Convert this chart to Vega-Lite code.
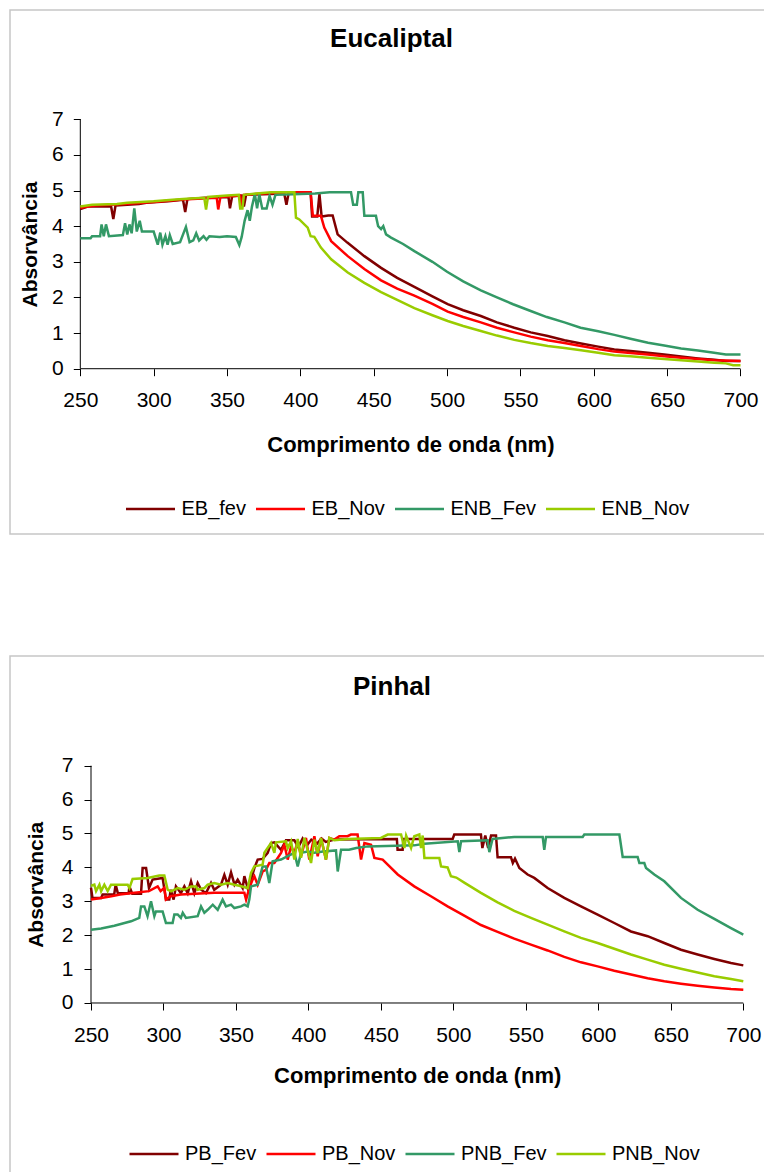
{
"$schema": "https://vega.github.io/schema/vega-lite/v6.json",
"padding": {"left": 9, "top": 9, "right": 0, "bottom": 0},
"spacing": 120,
"resolve": {"scale": {"color": "independent"}, "legend": {"color": "independent"}},
"config": {"view": {"stroke": "#c6c6c6", "strokeWidth": 1.5}, "font": "Liberation Sans"},
"vconcat": [
{
"width": 755, "height": 524,
"title": {"text": "Eucaliptal", "fontSize": 26, "font": "Liberation Sans", "fontWeight": "bold", "color": "#000", "anchor": "middle", "frame": "group", "baseline": "alphabetic", "offset": -63.4, "dx": 4},
"layer": [
{"data": {"values": [{}]}, "mark": {"type": "rule", "color": "#000", "strokeWidth": 1},
 "encoding": {"x": {"datum": 250, "type": "quantitative"}, "x2": {"datum": 700}, "y": {"datum": 0, "type": "quantitative"}}},
{"data": {"values": [{}]}, "mark": {"type": "rule", "color": "#000", "strokeWidth": 1},
 "encoding": {"x": {"datum": 250, "type": "quantitative"}, "y": {"datum": 0, "type": "quantitative"}, "y2": {"datum": 7}}},
{"data": {"values": [
{"s":"EB_fev","nm":250,"a":4.48},{"s":"EB_fev","nm":255,"a":4.55},{"s":"EB_fev","nm":271,"a":4.55},{"s":"EB_fev","nm":272.5,"a":4.2},{"s":"EB_fev","nm":274,"a":4.58},{"s":"EB_fev","nm":290,"a":4.62},{"s":"EB_fev","nm":295,"a":4.66},{"s":"EB_fev","nm":310,"a":4.7},{"s":"EB_fev","nm":320,"a":4.74},{"s":"EB_fev","nm":321.5,"a":4.4},{"s":"EB_fev","nm":323,"a":4.76},{"s":"EB_fev","nm":335,"a":4.8},{"s":"EB_fev","nm":351,"a":4.82},{"s":"EB_fev","nm":352,"a":4.5},{"s":"EB_fev","nm":353.5,"a":4.84},{"s":"EB_fev","nm":360,"a":4.86},{"s":"EB_fev","nm":361.5,"a":4.55},{"s":"EB_fev","nm":363,"a":4.88},{"s":"EB_fev","nm":375,"a":4.9},{"s":"EB_fev","nm":389,"a":4.92},{"s":"EB_fev","nm":390.5,"a":4.6},{"s":"EB_fev","nm":392,"a":4.93},{"s":"EB_fev","nm":407,"a":4.93},{"s":"EB_fev","nm":408,"a":4.27},{"s":"EB_fev","nm":411.5,"a":4.27},{"s":"EB_fev","nm":413,"a":4.9},{"s":"EB_fev","nm":414.5,"a":4.27},{"s":"EB_fev","nm":419,"a":4.3},{"s":"EB_fev","nm":422,"a":4.3},{"s":"EB_fev","nm":425.4,"a":3.77},{"s":"EB_fev","nm":432,"a":3.54},{"s":"EB_fev","nm":443.6,"a":3.16},{"s":"EB_fev","nm":455,"a":2.83},{"s":"EB_fev","nm":466,"a":2.55},{"s":"EB_fev","nm":477.7,"a":2.3},{"s":"EB_fev","nm":490,"a":2.03},{"s":"EB_fev","nm":500.4,"a":1.81},{"s":"EB_fev","nm":511,"a":1.64},{"s":"EB_fev","nm":523,"a":1.48},{"s":"EB_fev","nm":534,"a":1.3},{"s":"EB_fev","nm":545.8,"a":1.15},{"s":"EB_fev","nm":557,"a":1.02},{"s":"EB_fev","nm":568.6,"a":0.92},{"s":"EB_fev","nm":580,"a":0.8},{"s":"EB_fev","nm":591.3,"a":0.71},{"s":"EB_fev","nm":603,"a":0.62},{"s":"EB_fev","nm":614,"a":0.54},{"s":"EB_fev","nm":625,"a":0.5},{"s":"EB_fev","nm":636.8,"a":0.45},{"s":"EB_fev","nm":648,"a":0.4},{"s":"EB_fev","nm":659.5,"a":0.34},{"s":"EB_fev","nm":671,"a":0.29},{"s":"EB_fev","nm":682.2,"a":0.25},{"s":"EB_fev","nm":690,"a":0.22},{"s":"EB_fev","nm":700,"a":0.22},
{"s":"EB_Nov","nm":250,"a":4.52},{"s":"EB_Nov","nm":260,"a":4.58},{"s":"EB_Nov","nm":280,"a":4.62},{"s":"EB_Nov","nm":300,"a":4.68},{"s":"EB_Nov","nm":320,"a":4.75},{"s":"EB_Nov","nm":343,"a":4.8},{"s":"EB_Nov","nm":344,"a":4.47},{"s":"EB_Nov","nm":345.5,"a":4.82},{"s":"EB_Nov","nm":359,"a":4.86},{"s":"EB_Nov","nm":360,"a":4.55},{"s":"EB_Nov","nm":361.5,"a":4.88},{"s":"EB_Nov","nm":375,"a":4.92},{"s":"EB_Nov","nm":390,"a":4.95},{"s":"EB_Nov","nm":407,"a":4.95},{"s":"EB_Nov","nm":408.5,"a":4.29},{"s":"EB_Nov","nm":414,"a":4.29},{"s":"EB_Nov","nm":416.3,"a":3.96},{"s":"EB_Nov","nm":421,"a":3.58},{"s":"EB_Nov","nm":432.3,"a":3.16},{"s":"EB_Nov","nm":443.6,"a":2.8},{"s":"EB_Nov","nm":455,"a":2.48},{"s":"EB_Nov","nm":466,"a":2.25},{"s":"EB_Nov","nm":477.7,"a":2.05},{"s":"EB_Nov","nm":490,"a":1.82},{"s":"EB_Nov","nm":500.4,"a":1.6},{"s":"EB_Nov","nm":511,"a":1.45},{"s":"EB_Nov","nm":523,"a":1.3},{"s":"EB_Nov","nm":534,"a":1.15},{"s":"EB_Nov","nm":545.8,"a":1.02},{"s":"EB_Nov","nm":557,"a":0.9},{"s":"EB_Nov","nm":568.6,"a":0.8},{"s":"EB_Nov","nm":580,"a":0.72},{"s":"EB_Nov","nm":591.3,"a":0.64},{"s":"EB_Nov","nm":603,"a":0.55},{"s":"EB_Nov","nm":614,"a":0.48},{"s":"EB_Nov","nm":625,"a":0.44},{"s":"EB_Nov","nm":636.8,"a":0.4},{"s":"EB_Nov","nm":648,"a":0.35},{"s":"EB_Nov","nm":659.5,"a":0.31},{"s":"EB_Nov","nm":671,"a":0.27},{"s":"EB_Nov","nm":682.2,"a":0.24},{"s":"EB_Nov","nm":700,"a":0.22},
{"s":"ENB_Fev","nm":250,"a":3.66},{"s":"ENB_Fev","nm":257,"a":3.66},{"s":"ENB_Fev","nm":258,"a":3.72},{"s":"ENB_Fev","nm":263.5,"a":3.72},{"s":"ENB_Fev","nm":264.5,"a":4.05},{"s":"ENB_Fev","nm":266,"a":3.72},{"s":"ENB_Fev","nm":267.5,"a":4.05},{"s":"ENB_Fev","nm":269.5,"a":3.72},{"s":"ENB_Fev","nm":279,"a":3.75},{"s":"ENB_Fev","nm":280.5,"a":4.08},{"s":"ENB_Fev","nm":282,"a":3.77},{"s":"ENB_Fev","nm":283.5,"a":4.05},{"s":"ENB_Fev","nm":285,"a":3.8},{"s":"ENB_Fev","nm":286.8,"a":4.5},{"s":"ENB_Fev","nm":288.5,"a":3.85},{"s":"ENB_Fev","nm":290.5,"a":4.15},{"s":"ENB_Fev","nm":292,"a":3.85},{"s":"ENB_Fev","nm":300,"a":3.85},{"s":"ENB_Fev","nm":302.8,"a":3.48},{"s":"ENB_Fev","nm":304.5,"a":3.82},{"s":"ENB_Fev","nm":306,"a":3.48},{"s":"ENB_Fev","nm":308,"a":3.72},{"s":"ENB_Fev","nm":309.5,"a":3.48},{"s":"ENB_Fev","nm":311,"a":3.75},{"s":"ENB_Fev","nm":313,"a":3.5},{"s":"ENB_Fev","nm":318,"a":3.55},{"s":"ENB_Fev","nm":322,"a":3.98},{"s":"ENB_Fev","nm":324.5,"a":3.55},{"s":"ENB_Fev","nm":327,"a":3.6},{"s":"ENB_Fev","nm":329,"a":3.8},{"s":"ENB_Fev","nm":331,"a":3.6},{"s":"ENB_Fev","nm":334,"a":3.72},{"s":"ENB_Fev","nm":336,"a":3.62},{"s":"ENB_Fev","nm":338,"a":3.72},{"s":"ENB_Fev","nm":345,"a":3.7},{"s":"ENB_Fev","nm":350,"a":3.72},{"s":"ENB_Fev","nm":356,"a":3.7},{"s":"ENB_Fev","nm":358.4,"a":3.47},{"s":"ENB_Fev","nm":360,"a":3.7},{"s":"ENB_Fev","nm":362,"a":4.15},{"s":"ENB_Fev","nm":364,"a":4.45},{"s":"ENB_Fev","nm":365.5,"a":4.15},{"s":"ENB_Fev","nm":367,"a":4.55},{"s":"ENB_Fev","nm":369,"a":4.9},{"s":"ENB_Fev","nm":370.5,"a":4.5},{"s":"ENB_Fev","nm":372,"a":4.9},{"s":"ENB_Fev","nm":374,"a":4.5},{"s":"ENB_Fev","nm":377,"a":4.5},{"s":"ENB_Fev","nm":379,"a":4.85},{"s":"ENB_Fev","nm":381,"a":4.6},{"s":"ENB_Fev","nm":383,"a":4.88},{"s":"ENB_Fev","nm":395,"a":4.9},{"s":"ENB_Fev","nm":410,"a":4.92},{"s":"ENB_Fev","nm":420,"a":4.95},{"s":"ENB_Fev","nm":434.5,"a":4.95},{"s":"ENB_Fev","nm":436,"a":4.6},{"s":"ENB_Fev","nm":438.5,"a":4.6},{"s":"ENB_Fev","nm":439.5,"a":4.95},{"s":"ENB_Fev","nm":442.5,"a":4.95},{"s":"ENB_Fev","nm":443.6,"a":4.29},{"s":"ENB_Fev","nm":451.5,"a":4.29},{"s":"ENB_Fev","nm":453,"a":4.0},{"s":"ENB_Fev","nm":455,"a":3.92},{"s":"ENB_Fev","nm":456.5,"a":4.0},{"s":"ENB_Fev","nm":458.4,"a":3.77},{"s":"ENB_Fev","nm":461.8,"a":3.68},{"s":"ENB_Fev","nm":470,"a":3.5},{"s":"ENB_Fev","nm":477.7,"a":3.3},{"s":"ENB_Fev","nm":490,"a":3.0},{"s":"ENB_Fev","nm":500,"a":2.72},{"s":"ENB_Fev","nm":511,"a":2.45},{"s":"ENB_Fev","nm":523,"a":2.2},{"s":"ENB_Fev","nm":534,"a":2.0},{"s":"ENB_Fev","nm":545,"a":1.81},{"s":"ENB_Fev","nm":557,"a":1.62},{"s":"ENB_Fev","nm":568,"a":1.45},{"s":"ENB_Fev","nm":580,"a":1.3},{"s":"ENB_Fev","nm":591,"a":1.15},{"s":"ENB_Fev","nm":603,"a":1.05},{"s":"ENB_Fev","nm":614,"a":0.95},{"s":"ENB_Fev","nm":625,"a":0.84},{"s":"ENB_Fev","nm":637,"a":0.73},{"s":"ENB_Fev","nm":648,"a":0.65},{"s":"ENB_Fev","nm":659.5,"a":0.57},{"s":"ENB_Fev","nm":671,"a":0.51},{"s":"ENB_Fev","nm":682,"a":0.45},{"s":"ENB_Fev","nm":690,"a":0.4},{"s":"ENB_Fev","nm":700,"a":0.4},
{"s":"ENB_Nov","nm":250,"a":4.55},{"s":"ENB_Nov","nm":258,"a":4.6},{"s":"ENB_Nov","nm":275,"a":4.62},{"s":"ENB_Nov","nm":282,"a":4.66},{"s":"ENB_Nov","nm":300,"a":4.7},{"s":"ENB_Nov","nm":315,"a":4.75},{"s":"ENB_Nov","nm":325,"a":4.78},{"s":"ENB_Nov","nm":334.5,"a":4.8},{"s":"ENB_Nov","nm":335.7,"a":4.47},{"s":"ENB_Nov","nm":337,"a":4.82},{"s":"ENB_Nov","nm":350,"a":4.86},{"s":"ENB_Nov","nm":358,"a":4.88},{"s":"ENB_Nov","nm":359,"a":4.5},{"s":"ENB_Nov","nm":360.5,"a":4.5},{"s":"ENB_Nov","nm":361.5,"a":4.88},{"s":"ENB_Nov","nm":370,"a":4.92},{"s":"ENB_Nov","nm":380,"a":4.95},{"s":"ENB_Nov","nm":395.9,"a":4.95},{"s":"ENB_Nov","nm":397,"a":4.24},{"s":"ENB_Nov","nm":399.3,"a":4.19},{"s":"ENB_Nov","nm":405,"a":3.96},{"s":"ENB_Nov","nm":407,"a":3.72},{"s":"ENB_Nov","nm":409.5,"a":3.7},{"s":"ENB_Nov","nm":414,"a":3.4},{"s":"ENB_Nov","nm":421,"a":3.07},{"s":"ENB_Nov","nm":432.3,"a":2.7},{"s":"ENB_Nov","nm":443.6,"a":2.41},{"s":"ENB_Nov","nm":455,"a":2.15},{"s":"ENB_Nov","nm":466,"a":1.93},{"s":"ENB_Nov","nm":477.7,"a":1.7},{"s":"ENB_Nov","nm":490,"a":1.5},{"s":"ENB_Nov","nm":500.4,"a":1.34},{"s":"ENB_Nov","nm":511,"a":1.2},{"s":"ENB_Nov","nm":523,"a":1.06},{"s":"ENB_Nov","nm":534,"a":0.93},{"s":"ENB_Nov","nm":545.8,"a":0.81},{"s":"ENB_Nov","nm":557,"a":0.72},{"s":"ENB_Nov","nm":568.6,"a":0.64},{"s":"ENB_Nov","nm":580,"a":0.58},{"s":"ENB_Nov","nm":591.3,"a":0.52},{"s":"ENB_Nov","nm":603,"a":0.45},{"s":"ENB_Nov","nm":614,"a":0.38},{"s":"ENB_Nov","nm":625,"a":0.35},{"s":"ENB_Nov","nm":636.8,"a":0.31},{"s":"ENB_Nov","nm":648,"a":0.27},{"s":"ENB_Nov","nm":659.5,"a":0.24},{"s":"ENB_Nov","nm":671,"a":0.2},{"s":"ENB_Nov","nm":682.2,"a":0.17},{"s":"ENB_Nov","nm":690,"a":0.15},{"s":"ENB_Nov","nm":695,"a":0.1},{"s":"ENB_Nov","nm":700,"a":0.1}
]},
"mark": {"type": "line", "strokeWidth": 2.5},
"encoding": {
 "x": {"field": "nm", "type": "quantitative", "scale": {"domain": [202.08, 716.7], "nice": false, "zero": false},
   "axis": {"values": [250,300,350,400,450,500,550,600,650,700], "offset": -165.3, "domain": false, "grid": false, "tickSize": 7, "tickColor": "#000", "labelFontSize": 21, "labelFont": "Liberation Sans", "labelColor": "#000", "labelPadding": 14, "labelFlush": false, "labelOverlap": false, "title": "Comprimento de onda (nm)", "titleFont": "Liberation Sans", "titleFontSize": 22, "titleFontWeight": "bold", "titleColor": "#000", "titleX": 400.4, "titleY": 82.3, "titleBaseline": "alphabetic", "titleAlign": "center"}},
 "y": {"field": "a", "type": "quantitative", "scale": {"domain": [-4.639, 10.068], "nice": false, "zero": false},
   "axis": {"values": [0,1,2,3,4,5,6,7], "offset": -70.3, "domain": false, "grid": false, "tickSize": 7, "tickColor": "#000", "labelFontSize": 21, "labelFont": "Liberation Sans", "labelColor": "#000", "labelPadding": 10, "labelFlush": false, "labelOverlap": false, "title": "Absorvância", "titleFont": "Liberation Sans", "titleFontSize": 21, "titleFontWeight": "bold", "titleColor": "#000", "titleX": -49.5, "titleY": 234, "titleAngle": 270, "titleBaseline": "middle", "titleAlign": "center"}},
 "color": {"field": "s", "type": "nominal", "scale": {"domain": ["EB_fev","EB_Nov","ENB_Fev","ENB_Nov"], "range": ["#800000","#FF0000","#339966","#99CC00"]},
   "legend": {"orient": "none", "legendX": 114.5, "legendY": 473, "direction": "horizontal", "title": null, "symbolType": "stroke", "symbolSize": 2401, "symbolStrokeWidth": 2.5, "labelFont": "Liberation Sans", "labelFontSize": 20, "labelColor": "#000", "labelOffset": 5, "columnPadding": 4, "padding": 0}}
}}
]
},
{
"width": 755, "height": 519,
"title": {"text": "Pinhal", "fontSize": 26, "font": "Liberation Sans", "fontWeight": "bold", "color": "#000", "anchor": "middle", "frame": "group", "baseline": "alphabetic", "offset": -65.2, "dx": 4.5},
"layer": [
{"data": {"values": [{}]}, "mark": {"type": "rule", "color": "#000", "strokeWidth": 1},
 "encoding": {"x": {"datum": 250, "type": "quantitative"}, "x2": {"datum": 700}, "y": {"datum": 0, "type": "quantitative"}}},
{"data": {"values": [{}]}, "mark": {"type": "rule", "color": "#000", "strokeWidth": 1},
 "encoding": {"x": {"datum": 250, "type": "quantitative"}, "y": {"datum": 0, "type": "quantitative"}, "y2": {"datum": 7}}},
{"data": {"values": [
{"s":"PB_Fev","nm":250,"a":3.4},{"s":"PB_Fev","nm":251,"a":3.1},{"s":"PB_Fev","nm":257,"a":3.1},{"s":"PB_Fev","nm":258,"a":3.2},{"s":"PB_Fev","nm":266,"a":3.2},{"s":"PB_Fev","nm":267,"a":3.49},{"s":"PB_Fev","nm":268.5,"a":3.24},{"s":"PB_Fev","nm":276,"a":3.24},{"s":"PB_Fev","nm":276.5,"a":3.44},{"s":"PB_Fev","nm":278.5,"a":3.22},{"s":"PB_Fev","nm":284.5,"a":3.22},{"s":"PB_Fev","nm":285.6,"a":3.98},{"s":"PB_Fev","nm":288,"a":3.98},{"s":"PB_Fev","nm":290,"a":3.39},{"s":"PB_Fev","nm":292.5,"a":3.64},{"s":"PB_Fev","nm":299.4,"a":3.69},{"s":"PB_Fev","nm":301.7,"a":3.05},{"s":"PB_Fev","nm":304,"a":3.05},{"s":"PB_Fev","nm":305,"a":3.34},{"s":"PB_Fev","nm":307,"a":3.05},{"s":"PB_Fev","nm":308.6,"a":3.44},{"s":"PB_Fev","nm":312,"a":3.24},{"s":"PB_Fev","nm":314.4,"a":3.44},{"s":"PB_Fev","nm":316.7,"a":3.24},{"s":"PB_Fev","nm":319,"a":3.59},{"s":"PB_Fev","nm":321.3,"a":3.24},{"s":"PB_Fev","nm":323.6,"a":3.54},{"s":"PB_Fev","nm":326,"a":3.34},{"s":"PB_Fev","nm":329.3,"a":3.24},{"s":"PB_Fev","nm":332.8,"a":3.54},{"s":"PB_Fev","nm":335,"a":3.34},{"s":"PB_Fev","nm":339.7,"a":3.49},{"s":"PB_Fev","nm":342,"a":3.78},{"s":"PB_Fev","nm":344.3,"a":3.49},{"s":"PB_Fev","nm":346.6,"a":3.85},{"s":"PB_Fev","nm":349,"a":3.49},{"s":"PB_Fev","nm":351.2,"a":3.64},{"s":"PB_Fev","nm":354.6,"a":3.39},{"s":"PB_Fev","nm":355.8,"a":3.74},{"s":"PB_Fev","nm":358.1,"a":3.39},{"s":"PB_Fev","nm":360.4,"a":3.64},{"s":"PB_Fev","nm":362.7,"a":3.98},{"s":"PB_Fev","nm":365,"a":4.23},{"s":"PB_Fev","nm":368.4,"a":4.25},{"s":"PB_Fev","nm":371.9,"a":4.43},{"s":"PB_Fev","nm":374.2,"a":4.72},{"s":"PB_Fev","nm":376.5,"a":4.74},{"s":"PB_Fev","nm":381.1,"a":4.52},{"s":"PB_Fev","nm":384.5,"a":4.8},{"s":"PB_Fev","nm":390.3,"a":4.8},{"s":"PB_Fev","nm":393,"a":4.6},{"s":"PB_Fev","nm":396,"a":4.85},{"s":"PB_Fev","nm":399,"a":4.65},{"s":"PB_Fev","nm":402,"a":4.82},{"s":"PB_Fev","nm":406,"a":4.7},{"s":"PB_Fev","nm":409,"a":4.85},{"s":"PB_Fev","nm":412,"a":4.75},{"s":"PB_Fev","nm":417.9,"a":4.82},{"s":"PB_Fev","nm":461,"a":4.84},{"s":"PB_Fev","nm":461.5,"a":4.52},{"s":"PB_Fev","nm":465,"a":4.52},{"s":"PB_Fev","nm":465.5,"a":4.84},{"s":"PB_Fev","nm":499.5,"a":4.84},{"s":"PB_Fev","nm":500.6,"a":4.97},{"s":"PB_Fev","nm":519,"a":4.97},{"s":"PB_Fev","nm":520,"a":4.57},{"s":"PB_Fev","nm":522,"a":4.94},{"s":"PB_Fev","nm":524,"a":4.57},{"s":"PB_Fev","nm":526,"a":4.94},{"s":"PB_Fev","nm":529.4,"a":4.94},{"s":"PB_Fev","nm":530.5,"a":4.3},{"s":"PB_Fev","nm":539.7,"a":4.3},{"s":"PB_Fev","nm":541,"a":4.13},{"s":"PB_Fev","nm":542.5,"a":4.26},{"s":"PB_Fev","nm":545.5,"a":3.98},{"s":"PB_Fev","nm":551.2,"a":3.79},{"s":"PB_Fev","nm":555.8,"a":3.69},{"s":"PB_Fev","nm":565,"a":3.39},{"s":"PB_Fev","nm":576.5,"a":3.1},{"s":"PB_Fev","nm":588,"a":2.85},{"s":"PB_Fev","nm":599.5,"a":2.61},{"s":"PB_Fev","nm":611,"a":2.36},{"s":"PB_Fev","nm":622.5,"a":2.11},{"s":"PB_Fev","nm":634,"a":1.97},{"s":"PB_Fev","nm":645.5,"a":1.77},{"s":"PB_Fev","nm":657,"a":1.57},{"s":"PB_Fev","nm":668.5,"a":1.43},{"s":"PB_Fev","nm":680,"a":1.3},{"s":"PB_Fev","nm":691.5,"a":1.18},{"s":"PB_Fev","nm":700,"a":1.11},
{"s":"PB_Nov","nm":250,"a":3.05},{"s":"PB_Nov","nm":257,"a":3.1},{"s":"PB_Nov","nm":264,"a":3.15},{"s":"PB_Nov","nm":270,"a":3.2},{"s":"PB_Nov","nm":280,"a":3.25},{"s":"PB_Nov","nm":290,"a":3.3},{"s":"PB_Nov","nm":296,"a":3.44},{"s":"PB_Nov","nm":298,"a":3.3},{"s":"PB_Nov","nm":300.6,"a":3.4},{"s":"PB_Nov","nm":301.7,"a":3.05},{"s":"PB_Nov","nm":305,"a":3.15},{"s":"PB_Nov","nm":312,"a":3.2},{"s":"PB_Nov","nm":335,"a":3.25},{"s":"PB_Nov","nm":355.8,"a":3.25},{"s":"PB_Nov","nm":357,"a":3.05},{"s":"PB_Nov","nm":359.2,"a":3.39},{"s":"PB_Nov","nm":361.5,"a":3.64},{"s":"PB_Nov","nm":362.7,"a":3.74},{"s":"PB_Nov","nm":365,"a":3.49},{"s":"PB_Nov","nm":368.4,"a":3.88},{"s":"PB_Nov","nm":370.7,"a":3.93},{"s":"PB_Nov","nm":373,"a":4.13},{"s":"PB_Nov","nm":376.5,"a":4.13},{"s":"PB_Nov","nm":381.1,"a":4.43},{"s":"PB_Nov","nm":383.4,"a":4.67},{"s":"PB_Nov","nm":385.7,"a":4.23},{"s":"PB_Nov","nm":388,"a":4.62},{"s":"PB_Nov","nm":390.3,"a":4.43},{"s":"PB_Nov","nm":392.6,"a":4.77},{"s":"PB_Nov","nm":394.9,"a":4.33},{"s":"PB_Nov","nm":398.3,"a":4.87},{"s":"PB_Nov","nm":400.6,"a":4.23},{"s":"PB_Nov","nm":404.1,"a":4.92},{"s":"PB_Nov","nm":406.4,"a":4.33},{"s":"PB_Nov","nm":408.7,"a":4.87},{"s":"PB_Nov","nm":412.1,"a":4.23},{"s":"PB_Nov","nm":414.4,"a":4.87},{"s":"PB_Nov","nm":417.9,"a":4.82},{"s":"PB_Nov","nm":421.3,"a":4.92},{"s":"PB_Nov","nm":427,"a":4.92},{"s":"PB_Nov","nm":429.3,"a":4.97},{"s":"PB_Nov","nm":433.9,"a":4.97},{"s":"PB_Nov","nm":436.3,"a":4.23},{"s":"PB_Nov","nm":438.6,"a":4.72},{"s":"PB_Nov","nm":443.2,"a":4.67},{"s":"PB_Nov","nm":445.5,"a":4.28},{"s":"PB_Nov","nm":451.2,"a":4.23},{"s":"PB_Nov","nm":454.7,"a":4.08},{"s":"PB_Nov","nm":461.6,"a":3.79},{"s":"PB_Nov","nm":473,"a":3.44},{"s":"PB_Nov","nm":484.5,"a":3.15},{"s":"PB_Nov","nm":496,"a":2.85},{"s":"PB_Nov","nm":507.5,"a":2.58},{"s":"PB_Nov","nm":519,"a":2.3},{"s":"PB_Nov","nm":530.5,"a":2.1},{"s":"PB_Nov","nm":542,"a":1.9},{"s":"PB_Nov","nm":553.5,"a":1.72},{"s":"PB_Nov","nm":565,"a":1.55},{"s":"PB_Nov","nm":576.5,"a":1.36},{"s":"PB_Nov","nm":588,"a":1.2},{"s":"PB_Nov","nm":599.5,"a":1.08},{"s":"PB_Nov","nm":611,"a":0.95},{"s":"PB_Nov","nm":622.5,"a":0.84},{"s":"PB_Nov","nm":634,"a":0.73},{"s":"PB_Nov","nm":645.5,"a":0.64},{"s":"PB_Nov","nm":657,"a":0.57},{"s":"PB_Nov","nm":668.5,"a":0.51},{"s":"PB_Nov","nm":680,"a":0.46},{"s":"PB_Nov","nm":691.5,"a":0.41},{"s":"PB_Nov","nm":700,"a":0.39},
{"s":"PNB_Fev","nm":250,"a":2.16},{"s":"PNB_Fev","nm":257,"a":2.2},{"s":"PNB_Fev","nm":266.1,"a":2.28},{"s":"PNB_Fev","nm":277.6,"a":2.41},{"s":"PNB_Fev","nm":283.3,"a":2.51},{"s":"PNB_Fev","nm":284.5,"a":2.85},{"s":"PNB_Fev","nm":286.8,"a":2.85},{"s":"PNB_Fev","nm":289,"a":2.56},{"s":"PNB_Fev","nm":291.4,"a":3.0},{"s":"PNB_Fev","nm":293.7,"a":2.56},{"s":"PNB_Fev","nm":294.8,"a":2.7},{"s":"PNB_Fev","nm":299.4,"a":2.7},{"s":"PNB_Fev","nm":301.7,"a":2.36},{"s":"PNB_Fev","nm":306.3,"a":2.36},{"s":"PNB_Fev","nm":307.5,"a":2.61},{"s":"PNB_Fev","nm":309.8,"a":2.61},{"s":"PNB_Fev","nm":312,"a":2.51},{"s":"PNB_Fev","nm":313.3,"a":2.66},{"s":"PNB_Fev","nm":315.5,"a":2.51},{"s":"PNB_Fev","nm":323.6,"a":2.56},{"s":"PNB_Fev","nm":325.9,"a":2.85},{"s":"PNB_Fev","nm":328.2,"a":2.66},{"s":"PNB_Fev","nm":330.5,"a":2.75},{"s":"PNB_Fev","nm":334,"a":2.9},{"s":"PNB_Fev","nm":337.4,"a":2.75},{"s":"PNB_Fev","nm":340.8,"a":3.05},{"s":"PNB_Fev","nm":343.1,"a":2.85},{"s":"PNB_Fev","nm":346.6,"a":2.9},{"s":"PNB_Fev","nm":348.9,"a":2.8},{"s":"PNB_Fev","nm":353.5,"a":2.85},{"s":"PNB_Fev","nm":355.8,"a":2.9},{"s":"PNB_Fev","nm":358.1,"a":2.85},{"s":"PNB_Fev","nm":359.2,"a":3.05},{"s":"PNB_Fev","nm":360.4,"a":3.44},{"s":"PNB_Fev","nm":365,"a":3.49},{"s":"PNB_Fev","nm":368.4,"a":4.03},{"s":"PNB_Fev","nm":370.7,"a":4.03},{"s":"PNB_Fev","nm":373,"a":3.54},{"s":"PNB_Fev","nm":375.3,"a":4.18},{"s":"PNB_Fev","nm":381.1,"a":4.23},{"s":"PNB_Fev","nm":385.7,"a":4.33},{"s":"PNB_Fev","nm":390.3,"a":4.43},{"s":"PNB_Fev","nm":392.6,"a":4.03},{"s":"PNB_Fev","nm":394.9,"a":4.43},{"s":"PNB_Fev","nm":399.5,"a":4.47},{"s":"PNB_Fev","nm":404.1,"a":4.43},{"s":"PNB_Fev","nm":410,"a":4.47},{"s":"PNB_Fev","nm":419,"a":4.5},{"s":"PNB_Fev","nm":420.2,"a":3.88},{"s":"PNB_Fev","nm":422.5,"a":4.52},{"s":"PNB_Fev","nm":428,"a":4.52},{"s":"PNB_Fev","nm":433,"a":4.57},{"s":"PNB_Fev","nm":440.9,"a":4.62},{"s":"PNB_Fev","nm":473,"a":4.65},{"s":"PNB_Fev","nm":480,"a":4.7},{"s":"PNB_Fev","nm":503,"a":4.77},{"s":"PNB_Fev","nm":504.1,"a":4.45},{"s":"PNB_Fev","nm":505.3,"a":4.77},{"s":"PNB_Fev","nm":523.6,"a":4.8},{"s":"PNB_Fev","nm":524.8,"a":4.45},{"s":"PNB_Fev","nm":527,"a":4.84},{"s":"PNB_Fev","nm":542,"a":4.9},{"s":"PNB_Fev","nm":561.6,"a":4.9},{"s":"PNB_Fev","nm":562.7,"a":4.52},{"s":"PNB_Fev","nm":563.9,"a":4.9},{"s":"PNB_Fev","nm":589.2,"a":4.9},{"s":"PNB_Fev","nm":590.3,"a":4.97},{"s":"PNB_Fev","nm":614.5,"a":4.97},{"s":"PNB_Fev","nm":616.8,"a":4.31},{"s":"PNB_Fev","nm":627.1,"a":4.31},{"s":"PNB_Fev","nm":628.3,"a":4.13},{"s":"PNB_Fev","nm":631.7,"a":4.13},{"s":"PNB_Fev","nm":632.9,"a":3.98},{"s":"PNB_Fev","nm":638.6,"a":3.79},{"s":"PNB_Fev","nm":645.5,"a":3.59},{"s":"PNB_Fev","nm":657,"a":3.1},{"s":"PNB_Fev","nm":668.5,"a":2.75},{"s":"PNB_Fev","nm":680,"a":2.48},{"s":"PNB_Fev","nm":691.5,"a":2.21},{"s":"PNB_Fev","nm":700,"a":2.02},
{"s":"PNB_Nov","nm":250,"a":3.46},{"s":"PNB_Nov","nm":252.3,"a":3.49},{"s":"PNB_Nov","nm":253.5,"a":3.3},{"s":"PNB_Nov","nm":255.8,"a":3.49},{"s":"PNB_Nov","nm":257,"a":3.3},{"s":"PNB_Nov","nm":259.2,"a":3.49},{"s":"PNB_Nov","nm":261.5,"a":3.3},{"s":"PNB_Nov","nm":263.8,"a":3.49},{"s":"PNB_Nov","nm":275.3,"a":3.49},{"s":"PNB_Nov","nm":276.5,"a":3.39},{"s":"PNB_Nov","nm":278.7,"a":3.66},{"s":"PNB_Nov","nm":289.1,"a":3.69},{"s":"PNB_Nov","nm":297.1,"a":3.76},{"s":"PNB_Nov","nm":300.6,"a":3.76},{"s":"PNB_Nov","nm":302.9,"a":3.34},{"s":"PNB_Nov","nm":305.2,"a":3.29},{"s":"PNB_Nov","nm":309.8,"a":3.39},{"s":"PNB_Nov","nm":314.4,"a":3.34},{"s":"PNB_Nov","nm":319,"a":3.44},{"s":"PNB_Nov","nm":322.4,"a":3.44},{"s":"PNB_Nov","nm":323.6,"a":3.34},{"s":"PNB_Nov","nm":328.2,"a":3.39},{"s":"PNB_Nov","nm":330.5,"a":3.49},{"s":"PNB_Nov","nm":335,"a":3.54},{"s":"PNB_Nov","nm":339.7,"a":3.49},{"s":"PNB_Nov","nm":344.3,"a":3.54},{"s":"PNB_Nov","nm":348.9,"a":3.49},{"s":"PNB_Nov","nm":352.3,"a":3.46},{"s":"PNB_Nov","nm":358.1,"a":3.39},{"s":"PNB_Nov","nm":360.4,"a":3.84},{"s":"PNB_Nov","nm":362.7,"a":4.03},{"s":"PNB_Nov","nm":368.4,"a":4.08},{"s":"PNB_Nov","nm":369.6,"a":4.43},{"s":"PNB_Nov","nm":374.2,"a":4.72},{"s":"PNB_Nov","nm":376.5,"a":4.43},{"s":"PNB_Nov","nm":377.6,"a":4.74},{"s":"PNB_Nov","nm":384.5,"a":4.77},{"s":"PNB_Nov","nm":385.7,"a":4.57},{"s":"PNB_Nov","nm":388,"a":4.77},{"s":"PNB_Nov","nm":390.3,"a":4.23},{"s":"PNB_Nov","nm":392.6,"a":4.84},{"s":"PNB_Nov","nm":394.9,"a":4.28},{"s":"PNB_Nov","nm":397.2,"a":4.87},{"s":"PNB_Nov","nm":401.8,"a":4.13},{"s":"PNB_Nov","nm":404.1,"a":4.82},{"s":"PNB_Nov","nm":406.4,"a":4.43},{"s":"PNB_Nov","nm":408.7,"a":4.87},{"s":"PNB_Nov","nm":412.1,"a":4.23},{"s":"PNB_Nov","nm":414.4,"a":4.87},{"s":"PNB_Nov","nm":417.9,"a":4.8},{"s":"PNB_Nov","nm":427,"a":4.84},{"s":"PNB_Nov","nm":450,"a":4.87},{"s":"PNB_Nov","nm":454.7,"a":4.97},{"s":"PNB_Nov","nm":463.9,"a":4.97},{"s":"PNB_Nov","nm":466.2,"a":4.57},{"s":"PNB_Nov","nm":467.4,"a":4.94},{"s":"PNB_Nov","nm":470.8,"a":4.57},{"s":"PNB_Nov","nm":473,"a":4.92},{"s":"PNB_Nov","nm":476.5,"a":4.97},{"s":"PNB_Nov","nm":477.7,"a":4.57},{"s":"PNB_Nov","nm":478.8,"a":4.94},{"s":"PNB_Nov","nm":480,"a":4.28},{"s":"PNB_Nov","nm":490.3,"a":4.28},{"s":"PNB_Nov","nm":491.5,"a":4.03},{"s":"PNB_Nov","nm":496,"a":4.0},{"s":"PNB_Nov","nm":498.3,"a":3.74},{"s":"PNB_Nov","nm":502,"a":3.7},{"s":"PNB_Nov","nm":507.5,"a":3.55},{"s":"PNB_Nov","nm":519,"a":3.25},{"s":"PNB_Nov","nm":530.5,"a":2.97},{"s":"PNB_Nov","nm":542,"a":2.72},{"s":"PNB_Nov","nm":553.5,"a":2.51},{"s":"PNB_Nov","nm":565,"a":2.31},{"s":"PNB_Nov","nm":576.5,"a":2.11},{"s":"PNB_Nov","nm":588,"a":1.92},{"s":"PNB_Nov","nm":599.5,"a":1.77},{"s":"PNB_Nov","nm":611,"a":1.6},{"s":"PNB_Nov","nm":622.5,"a":1.43},{"s":"PNB_Nov","nm":634,"a":1.28},{"s":"PNB_Nov","nm":645.5,"a":1.13},{"s":"PNB_Nov","nm":657,"a":1.01},{"s":"PNB_Nov","nm":668.5,"a":0.9},{"s":"PNB_Nov","nm":680,"a":0.79},{"s":"PNB_Nov","nm":691.5,"a":0.71},{"s":"PNB_Nov","nm":700,"a":0.64}
]},
"mark": {"type": "line", "strokeWidth": 2.5},
"encoding": {
 "x": {"field": "nm", "type": "quantitative", "scale": {"domain": [194.12, 714.97], "nice": false, "zero": false},
   "axis": {"values": [250,300,350,400,450,500,550,600,650,700], "offset": -172, "domain": false, "grid": false, "tickSize": 7, "tickColor": "#000", "labelFontSize": 21, "labelFont": "Liberation Sans", "labelColor": "#000", "labelPadding": 14, "labelFlush": false, "labelOverlap": false, "title": "Comprimento de onda (nm)", "titleFont": "Liberation Sans", "titleFontSize": 22, "titleFontWeight": "bold", "titleColor": "#000", "titleX": 407.2, "titleY": 79, "titleBaseline": "alphabetic", "titleAlign": "center"}},
 "y": {"field": "a", "type": "quantitative", "scale": {"domain": [-5.074, 10.236], "nice": false, "zero": false},
   "axis": {"values": [0,1,2,3,4,5,6,7], "offset": -81, "domain": false, "grid": false, "tickSize": 7, "tickColor": "#000", "labelFontSize": 21, "labelFont": "Liberation Sans", "labelColor": "#000", "labelPadding": 11, "labelFlush": false, "labelOverlap": false, "title": "Absorvância", "titleFont": "Liberation Sans", "titleFontSize": 21, "titleFontWeight": "bold", "titleColor": "#000", "titleX": -54.3, "titleY": 228.3, "titleAngle": 270, "titleBaseline": "middle", "titleAlign": "center"}},
 "color": {"field": "s", "type": "nominal", "scale": {"domain": ["PB_Fev","PB_Nov","PNB_Fev","PNB_Nov"], "range": ["#800000","#FF0000","#339966","#99CC00"]},
   "legend": {"orient": "none", "legendX": 118, "legendY": 472, "direction": "horizontal", "title": null, "symbolType": "stroke", "symbolSize": 2401, "symbolStrokeWidth": 2.5, "labelFont": "Liberation Sans", "labelFontSize": 20, "labelColor": "#000", "labelOffset": 5, "columnPadding": 4, "padding": 0}}
}}
]
}
]
}
